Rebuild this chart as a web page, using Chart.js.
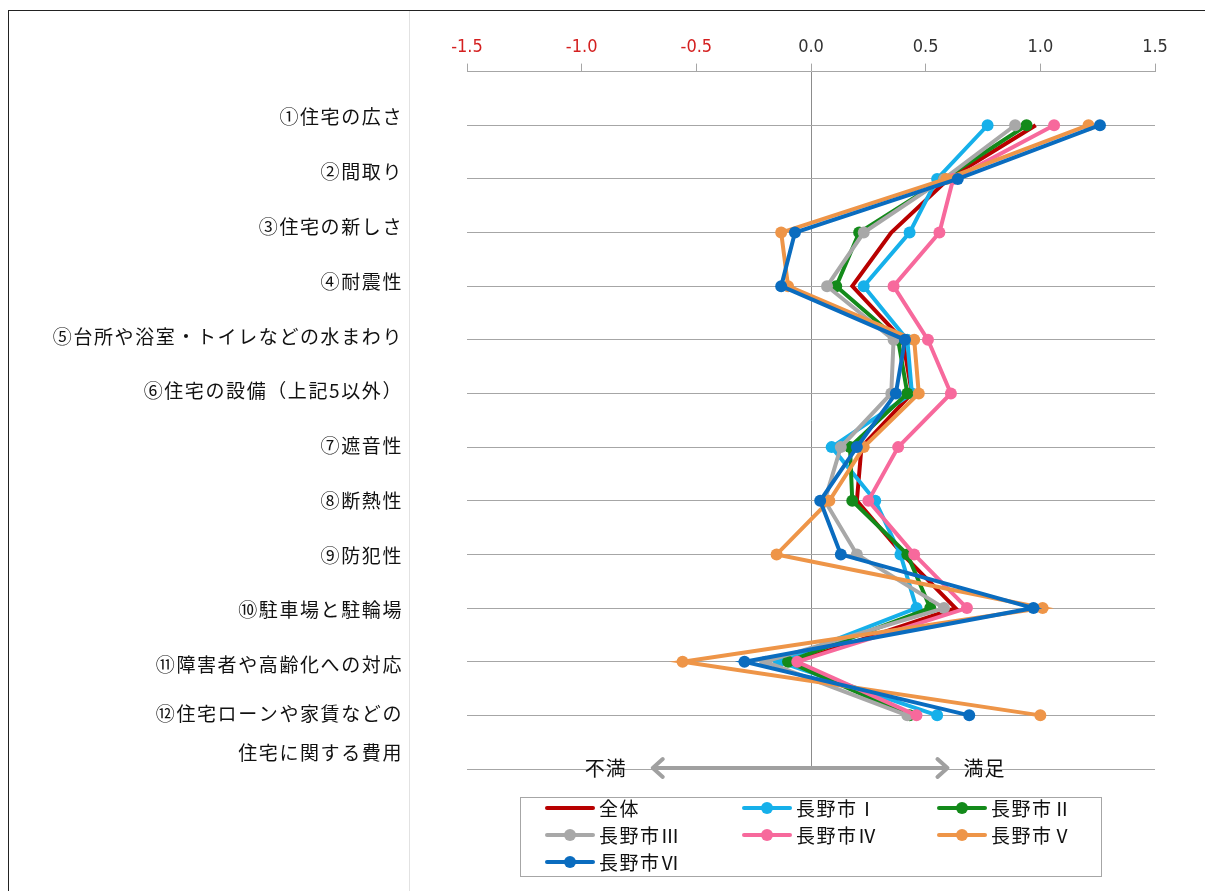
<!DOCTYPE html>
<html lang="ja">
<head>
<meta charset="utf-8">
<script src="https://cdn.jsdelivr.net/npm/chart.js@4"></script>
<style>
  html, body { margin: 0; padding: 0; background: #fff; }
  body { width: 1205px; height: 891px; position: relative; overflow: hidden; }
  #frame { position: absolute; left: 8px; top: 10px; right: -2px; bottom: -2px; border-left: 1px solid #222; border-top: 1px solid #222; }
  #sep { position: absolute; left: 409px; top: 11px; bottom: 0; width: 1px; background: #e2e2e2; }
  #chart { position: absolute; left: 0; top: 0; }
  #legend {
    position: absolute; left: 520px; top: 797px; width: 582px; height: 80px;
    border: 1px solid #a6a6a6; box-sizing: border-box;
    display: grid; grid-template-columns: 197px 195px 180px; grid-auto-rows: 27px;
    padding: 0 0 0 24px;
    font-family: "Noto Sans CJK JP", sans-serif; font-size: 19px; letter-spacing: 1.5px; color: #111;
  }
  .item { display: flex; align-items: center; white-space: nowrap; position: relative; top: -4px; }
  .sample { position: relative; width: 50px; height: 12px; margin-right: 4px; }
  .sample .ln { position: absolute; left: 0; right: 0; top: 4px; height: 4px; border-radius: 2px; }
  .sample .dot { position: absolute; left: 19px; top: 0; width: 12px; height: 12px; border-radius: 50%; }
</style>
</head>
<body>
<div id="frame"></div>
<div id="sep"></div>
<canvas id="chart" width="1205" height="891"></canvas>
<div id="legend"></div>
<script>
// --- DATA ---
const categories = [
    '①住宅の広さ',
    '②間取り',
    '③住宅の新しさ',
    '④耐震性',
    '⑤台所や浴室・トイレなどの水まわり',
    '⑥住宅の設備（上記5以外）',
    '⑦遮音性',
    '⑧断熱性',
    '⑨防犯性',
    '⑩駐車場と駐輪場',
    '⑪障害者や高齢化への対応',
    ['⑫住宅ローンや家賃などの', '住宅に関する費用']
];
const xTicks = [-1.5, -1.0, -0.5, 0.0, 0.5, 1.0, 1.5];
const seriesNames = ['全体', '長野市Ⅰ', '長野市Ⅱ', '長野市Ⅲ', '長野市Ⅳ', '長野市Ⅴ', '長野市Ⅵ'];

const zentai = [0.98, 0.60, 0.35, 0.18, 0.40, 0.44, 0.22, 0.20, 0.40, 0.63, -0.07, 0.43];
const city1  = [0.77, 0.55, 0.43, 0.23, 0.42, 0.44, 0.09, 0.28, 0.39, 0.46, -0.14, 0.55];
const city2  = [0.94, 0.58, 0.21, 0.11, 0.38, 0.42, 0.17, 0.18, 0.42, 0.52, -0.10, 0.43];
const city3  = [0.89, 0.58, 0.23, 0.07, 0.36, 0.35, 0.13, 0.06, 0.20, 0.58, -0.20, 0.42];
const city4  = [1.06, 0.62, 0.56, 0.36, 0.51, 0.61, 0.38, 0.25, 0.45, 0.68, -0.06, 0.46];
const city5  = [1.21, 0.59, -0.13, -0.10, 0.45, 0.47, 0.23, 0.08, -0.15, 1.01, -0.56, 1.00];
const city6  = [1.26, 0.64, -0.07, -0.13, 0.41, 0.37, 0.20, 0.04, 0.13, 0.97, -0.29, 0.69];

const seriesValues = [zentai, city1, city2, city3, city4, city5, city6];

// --- CONFIG ---
const SERIES_COLORS = ['#b80000', '#16b0ea', '#138a1a', '#a8a8a8', '#f7699c', '#ee9548', '#0a6cbf'];
const SERIES_MARKERS = [false, true, true, true, true, true, true];
const GRID = '#a6a6a6';
const JP_FONT = '"Noto Sans CJK JP", sans-serif';

const datasets = seriesNames.map((name, i) => ({
    label: name,
    data: seriesValues[i].map((v, k) => ({ x: v, y: k + 1 })),
    showLine: true,
    borderColor: SERIES_COLORS[i],
    backgroundColor: SERIES_COLORS[i],
    borderWidth: 4,
    pointRadius: SERIES_MARKERS[i] ? 6 : 0,
    pointBorderWidth: 0,
    order: seriesNames.length - i
}));

// category text on the left, plus the 不満 / 満足 arrow
const annotations = {
    id: 'annotations',
    afterDraw(chart) {
        const { ctx, chartArea } = chart;
        const y = chart.scales.y;
        const x = chart.scales.x;
        const right = chartArea.left - 64;

        ctx.save();
        ctx.font = '19px ' + JP_FONT;
        ctx.letterSpacing = '1.6px';
        ctx.fillStyle = '#111';
        ctx.textAlign = 'right';
        ctx.textBaseline = 'middle';
        categories.forEach((label, i) => {
            if (Array.isArray(label)) {
                // two-line label sits a little lower, lines 39px apart
                const py = y.getPixelForValue(i + 1) - 2;
                label.forEach((txt, j) => ctx.fillText(txt, right, py + j * 39));
            } else {
                ctx.fillText(label, right, y.getPixelForValue(1 + i * 1.021) - 8);
            }
        });

        // arrow
        const ay = y.getPixelForValue(13) - 1;
        const x1 = x.getPixelForValue(-0.69);
        const x2 = x.getPixelForValue(0.595);
        ctx.strokeStyle = '#a0a0a0';
        ctx.lineWidth = 4;
        ctx.lineCap = 'round';
        ctx.lineJoin = 'round';
        ctx.beginPath();
        ctx.moveTo(x1, ay); ctx.lineTo(x2, ay);
        ctx.moveTo(x1 + 10, ay - 9); ctx.lineTo(x1, ay); ctx.lineTo(x1 + 10, ay + 9);
        ctx.moveTo(x2 - 10, ay - 9); ctx.lineTo(x2, ay); ctx.lineTo(x2 - 10, ay + 9);
        ctx.stroke();

        ctx.font = '20px ' + JP_FONT;
        ctx.letterSpacing = '1px';
        ctx.fillStyle = '#111';
        ctx.textAlign = 'center';
        ctx.fillText('不満', x1 - 47, ay);
        ctx.fillText('満足', x2 + 37, ay);
        ctx.restore();
    }
};

new Chart(document.getElementById('chart'), {
    type: 'scatter',
    data: { datasets },
    options: {
        responsive: false,
        devicePixelRatio: 1,
        animation: false,
        layout: { padding: { left: 467, right: 50, top: 32, bottom: 122 } },
        plugins: { legend: { display: false }, tooltip: { enabled: false } },
        scales: {
            x: {
                type: 'linear',
                position: 'top',
                min: -1.5,
                max: 1.5,
                afterBuildTicks: (scale) => { scale.ticks = xTicks.map(v => ({ value: v })); },
                ticks: {
                    padding: 5,
                    callback: (v) => Number(v).toFixed(1),
                    color: (c) => c.tick.value < 0 ? '#d42020' : '#333',
                    font: { family: '"Liberation Sans Narrow", "DejaVu Sans Condensed", "Liberation Sans", sans-serif', size: 18 }
                },
                grid: {
                    color: (c) => c.tick.value === 0 ? '#8c8c8c' : 'rgba(0,0,0,0)',
                    tickColor: GRID,
                    tickLength: 8,
                    lineWidth: 1
                },
                border: { display: true, color: GRID, width: 1 }
            },
            y: {
                type: 'linear',
                reverse: true,
                min: 0,
                max: 13,
                ticks: { display: false, stepSize: 1 },
                grid: {
                    drawTicks: false,
                    color: (c) => c.tick.value === 0 ? 'rgba(0,0,0,0)' : GRID,
                    lineWidth: 1
                },
                border: { display: false }
            }
        }
    },
    plugins: [annotations]
});

// --- LEGEND ---
const legend = document.getElementById('legend');
seriesNames.forEach((name, i) => {
    const item = document.createElement('div');
    item.className = 'item';
    item.innerHTML = `
        <span class="sample">
            <span class="ln" style="background:${SERIES_COLORS[i]}"></span>
            ${SERIES_MARKERS[i] ? `<span class="dot" style="background:${SERIES_COLORS[i]}"></span>` : ''}
        </span>
        <span>${name}</span>
    `;
    legend.appendChild(item);
});
</script>
</body>
</html>
